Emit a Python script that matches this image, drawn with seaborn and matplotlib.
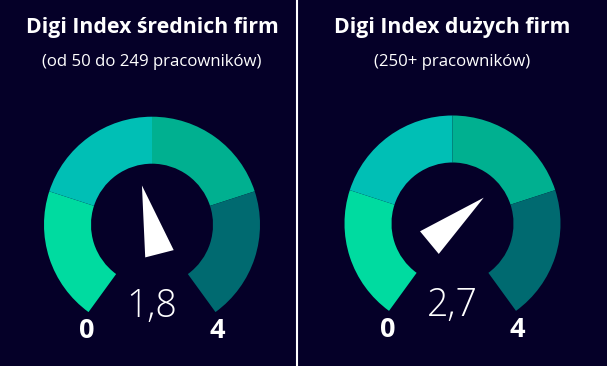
import numpy as np
import matplotlib
matplotlib.use("Agg")
import matplotlib.pyplot as plt
from matplotlib.lines import Line2D
import seaborn as sns

# ---- data ----
titles = ["Digi Index średnich firm", "Digi Index dużych firm"]
subtitles = ["(od 50 do 249 pracowników)", "(250+ pracowników)"]
values = [1.8, 2.7]
value_labels = ["1,8", "2,7"]
scale_min = 0
scale_max = 4
segment_bounds = [0, 1, 2, 3, 4]
segment_colors = ["#00DBA0", "#00BFB5", "#00B090", "#006A70"]

BG = "#050028"
sns.set_theme(style="dark", rc={"figure.facecolor": BG, "axes.facecolor": BG})
plt.rcParams["font.family"] = ["Open Sans", "DejaVu Sans"]

W, H = 607, 366
fig = plt.figure(figsize=(W / 100, H / 100), dpi=100)
fig.patch.set_facecolor(BG)

ARC_SPAN = 288.0  # degrees of the visible arc
R_OUT, R_IN = 108, 61

panels = [
    dict(x0=0, x1=297, cx=152, cy=224.7),
    dict(x0=297, x1=607, cx=452.5, cy=223.5),
]


def val_to_compass(v):
    return -ARC_SPAN / 2 + (v - scale_min) / (scale_max - scale_min) * ARC_SPAN


for i, p in enumerate(panels):
    ax = fig.add_axes([p["x0"] / W, 0, (p["x1"] - p["x0"]) / W, 1])
    ax.set_facecolor(BG)

    # gauge segments + invisible gap
    seg_sizes = list(np.diff(segment_bounds))
    gap = (360 - ARC_SPAN) / ARC_SPAN * (scale_max - scale_min)
    ax.pie(seg_sizes + [gap],
           colors=segment_colors + ["none"],
           startangle=90 + ARC_SPAN / 2,
           counterclock=False,
           radius=R_OUT,
           wedgeprops=dict(width=R_OUT - R_IN, linewidth=0, edgecolor="none"),
           frame=True)

    # needle
    th = np.deg2rad(val_to_compass(values[i]))
    d = np.array([np.sin(th), np.cos(th)])
    n = np.array([np.cos(th), -np.sin(th)])
    tip = d * 40.5
    base = -d * 30
    pts = np.array([tip, base + n * 14.7, base - n * 14.7])
    ax.fill(pts[:, 0], pts[:, 1], color="white", lw=0, zorder=5)

    # labels
    ax.text(0, -82, value_labels[i], color="white", fontsize=27,
            fontweight="light", ha="center", va="center")
    ax.text(-65, -106.5, str(scale_min), color="white", fontsize=19.5,
            fontweight="bold", ha="center", va="center")
    ax.text(65, -106.5, str(scale_max), color="white", fontsize=19.5,
            fontweight="bold", ha="center", va="center")

    ax.set_xlim(-p["cx"] + p["x0"], p["x1"] - p["cx"])
    ax.set_ylim(-(H - p["cy"]), p["cy"])
    ax.set_aspect("auto")
    ax.axis("off")

    fig.text(p["cx"] / W, 1 - 33 / H, titles[i], color="white", fontsize=15.3,
             fontweight="bold", ha="center", va="baseline")
    fig.text(p["cx"] / W, 1 - 66 / H, subtitles[i], color="white", fontsize=12.1,
             ha="center", va="baseline")

fig.add_artist(Line2D([296.8 / W, 296.8 / W], [0, 1], color="white",
                      lw=1.5, transform=fig.transFigure))

fig.savefig("out.png", dpi=100, facecolor=BG)
